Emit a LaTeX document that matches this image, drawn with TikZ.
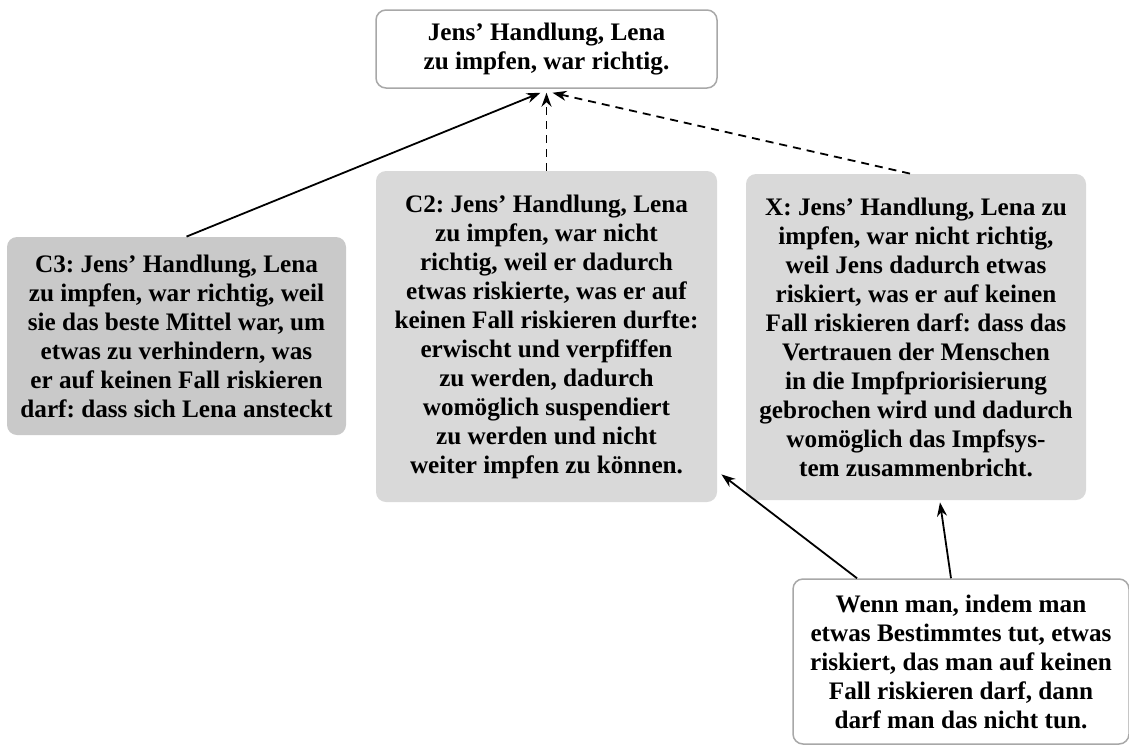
\documentclass[tikz,border=0pt]{standalone}
\usepackage{fontspec}
\setmainfont{Liberation Serif}
\usetikzlibrary{arrows.meta}

\definecolor{boxdark}{gray}{0.79}
\definecolor{boxlight}{gray}{0.85}
\definecolor{rimgray}{gray}{0.66}

\tikzset{
  claim/.style={rounded corners=5pt, align=center, inner sep=0pt,
    font=\fontsize{12.6}{14.5}\selectfont\bfseries\frenchspacing},
  thesis/.style={claim, draw=rimgray, line width=0.75pt, fill=white},
  reason/.style={claim, fill=boxlight},
  support/.style={-{Stealth[length=7pt,width=5pt]}, line width=0.9pt},
  weak/.style={support, dash pattern=on 4pt off 3pt},
}

\begin{document}
\begin{tikzpicture}[x=0.5pt,y=-0.5pt]
    \useasboundingbox (0,0) rectangle (1129,744);
    % Behauptung oben
    \node[thesis, minimum width=170.5pt, minimum height=39pt] (top) at (546.5,49)
      {Jens’ Handlung, Lena\\zu impfen, war richtig.};
    % Gründe
    \node[reason, fill=boxdark, minimum width=169.5pt, minimum height=99pt] (c3) at (176.5,336)
      {C3: Jens’ Handlung, Lena\\zu impfen, war richtig, weil\\sie das beste Mittel war, um\\etwas zu verhindern, was\\er auf keinen Fall riskieren\\darf: dass sich Lena ansteckt};
    \node[reason, minimum width=170.5pt, minimum height=165.5pt] (c2) at (546.5,336.5)
      {C2: Jens’ Handlung, Lena\\zu impfen, war nicht\\richtig, weil er dadurch\\etwas riskierte, was er auf\\keinen Fall riskieren durfte:\\erwischt und verpfiffen\\zu werden, dadurch\\womöglich suspendiert\\zu werden und nicht\\weiter impfen zu können.};
    \node[reason, minimum width=170pt, minimum height=163pt] (x) at (916,337)
      {X: Jens’ Handlung, Lena zu\\impfen, war nicht richtig,\\weil Jens dadurch etwas\\riskiert, was er auf keinen\\Fall riskieren darf: dass das\\Vertrauen der Menschen\\in die Impfpriorisierung\\gebrochen wird und dadurch\\womöglich das Impfsys-\\tem zusammenbricht.};
    % Prinzip unten
    \node[thesis, minimum width=168pt, minimum height=82.5pt] (bot) at (961,661.5)
      {Wenn man, indem man\\etwas Bestimmtes tut, etwas\\riskiert, das man auf keinen\\Fall riskieren darf, dann\\darf man das nicht tun.};
    % Pfeile
    \draw[support] ([xshift=5pt]c3.north) -- ([xshift=-3pt,yshift=-2pt]top.south);
    \draw[weak] (c2.north) -- ([yshift=-2pt]top.south);
    \draw[weak] ([xshift=-3pt]x.north) -- ([xshift=3pt,yshift=-2pt]top.south);
    \draw[support] ([xshift=-52pt]bot.north) -- ([xshift=2pt,yshift=14pt]c2.south east);
    \draw[support] ([xshift=-5pt]bot.north) -- ([xshift=12pt,yshift=-1pt]x.south);
\end{tikzpicture}
\end{document}
